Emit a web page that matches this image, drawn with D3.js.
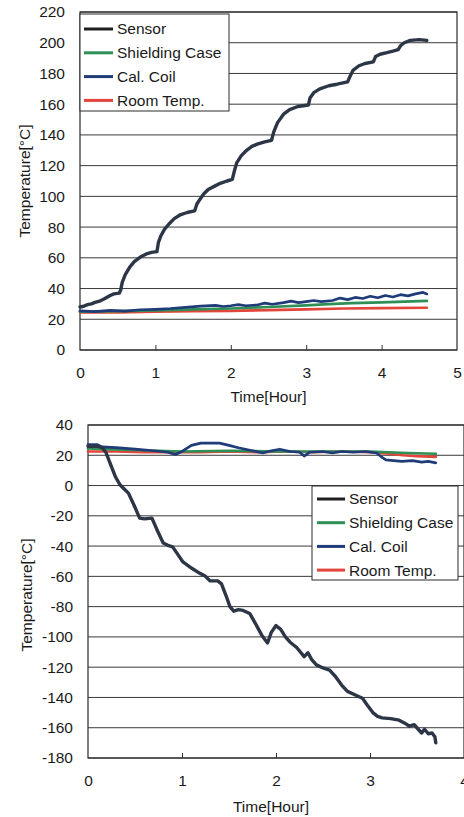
<!DOCTYPE html>
<html>
<head>
<meta charset="utf-8">
<script src="https://cdn.jsdelivr.net/npm/d3@7"></script>
<style>
  html, body { margin: 0; padding: 0; background: #fff; }
  svg { display: block; font-family: "Liberation Sans", Arial, sans-serif; }
</style>
</head>
<body>
<svg id="chart" width="464" height="817"></svg>
<script>
// Series names and colours
const seriesNames = ["Sensor", "Shielding Case", "Cal. Coil", "Room Temp."];
const seriesColors = ["#2c3646", "#2e8f57", "#1f3c78", "#e2463a"];

// Heating run: [hour, °C]
const heatSensor = [[0,28],[0.05,28.5],[0.1,29.5],[0.15,30],[0.2,31],[0.27,32],[0.33,33.5],[0.4,35.5],[0.45,36.5],[0.52,37],[0.54,39],[0.56,44],[0.6,49],[0.66,54],[0.72,57.5],[0.8,60.5],[0.88,62.5],[0.95,63.5],[1.02,64],[1.04,70],[1.07,74],[1.12,78.5],[1.18,82],[1.25,85.5],[1.33,88],[1.42,89.5],[1.52,90.5],[1.55,95],[1.59,98],[1.64,101.5],[1.7,104.5],[1.78,106.5],[1.86,108.5],[1.95,110],[2.02,111],[2.05,117],[2.08,122],[2.14,126.5],[2.21,130],[2.28,132.5],[2.35,134],[2.45,135.5],[2.54,136.5],[2.57,142],[2.62,148],[2.7,153.5],[2.78,156.5],[2.89,158.5],[3.03,159.5],[3.05,164],[3.1,167.5],[3.18,170],[3.3,172],[3.41,173],[3.55,174.5],[3.58,178],[3.62,182],[3.7,185],[3.78,186.5],[3.89,187.5],[3.92,191],[3.98,192.5],[4.07,193.5],[4.15,194.5],[4.22,195.5],[4.25,198],[4.3,200],[4.38,201.5],[4.5,202],[4.6,201.5]];
const heatShield = [[0,25],[0.5,25.3],[1,25.8],[1.5,26.5],[2,27],[2.5,28],[3,29],[3.3,29.8],[3.6,30.5],[4,31],[4.3,31.5],[4.6,32]];
const heatCoil = [[0,25.5],[0.2,25],[0.4,25.8],[0.6,25.3],[0.8,26.2],[1,26.5],[1.2,27],[1.4,27.8],[1.6,28.5],[1.8,29],[1.9,28.3],[2.0,28.8],[2.1,29.5],[2.2,28.8],[2.35,29.3],[2.45,30.5],[2.55,29.8],[2.7,30.8],[2.8,31.8],[2.9,30.8],[3.0,31.5],[3.1,32.2],[3.2,31.5],[3.35,32.2],[3.45,33.8],[3.55,32.8],[3.65,34.2],[3.75,33.5],[3.85,35],[3.95,34],[4.05,35.5],[4.15,34.5],[4.25,36],[4.35,35.2],[4.45,36.5],[4.55,37.5],[4.6,36.5]];
const heatRoom = [[0,24.5],[0.5,24.5],[1,25],[1.5,25.3],[2,25.5],[2.5,26],[3,26.5],[3.5,27],[4,27.3],[4.6,27.5]];

// Cooling run: [hour, °C]
const coolSensor = [[0,26],[0.1,26],[0.15,25],[0.19,22],[0.24,14],[0.29,6],[0.34,0.5],[0.38,-2],[0.43,-5],[0.49,-13],[0.55,-21.5],[0.6,-22],[0.68,-21.5],[0.74,-30],[0.8,-38],[0.85,-39.5],[0.9,-40.5],[0.95,-45],[1.01,-50.5],[1.1,-54.5],[1.19,-58],[1.25,-60],[1.3,-63],[1.38,-63],[1.42,-65],[1.47,-73],[1.51,-80],[1.55,-83],[1.6,-82],[1.65,-82.5],[1.72,-84.5],[1.78,-91],[1.85,-99],[1.91,-104],[1.95,-97],[2.0,-92.5],[2.05,-95],[2.1,-100],[2.15,-103.5],[2.22,-107],[2.3,-113],[2.34,-110.5],[2.38,-115],[2.43,-118.5],[2.5,-120.5],[2.57,-122],[2.63,-126],[2.7,-132],[2.76,-136],[2.85,-138.5],[2.92,-140.5],[2.97,-145],[3.03,-150],[3.08,-152.5],[3.13,-153.5],[3.22,-154],[3.31,-155],[3.37,-157],[3.42,-159],[3.47,-158],[3.52,-161.5],[3.55,-163.5],[3.58,-161],[3.62,-164],[3.66,-163.5],[3.69,-166],[3.7,-170]];
const coolShield = [[0,24.5],[0.2,24],[0.5,23.5],[1,22.5],[1.5,23],[2,22.5],[2.5,22.5],[3,22.5],[3.2,22],[3.4,21.5],[3.7,21]];
const coolCoil = [[0,27],[0.1,27],[0.15,25.5],[0.3,25],[0.5,24],[0.7,23],[0.85,22],[0.93,20.5],[1.0,22.5],[1.1,26.5],[1.2,28],[1.4,28],[1.5,26.5],[1.6,25],[1.75,23],[1.86,21.5],[1.95,23],[2.04,24],[2.15,22.5],[2.25,22],[2.3,19.5],[2.36,22],[2.5,22.5],[2.6,21.5],[2.7,22.5],[2.82,22],[2.95,22.5],[3.07,21.5],[3.12,19],[3.17,17],[3.25,16.5],[3.34,16],[3.45,16.5],[3.55,15.5],[3.62,16],[3.7,15]];
const coolRoom = [[0,22.5],[0.3,22.5],[0.6,22],[0.9,22],[1.2,22],[1.5,22.5],[1.8,22],[2.1,22.5],[2.4,22],[2.7,22.5],[3.0,22],[3.2,21],[3.35,20],[3.5,19.5],[3.7,19]];

// Axis ticks
const heatXTicks = [0, 1, 2, 3, 4, 5];
const heatYTicks = [0, 20, 40, 60, 80, 100, 120, 140, 160, 180, 200, 220];
const coolXTicks = [0, 1, 2, 3, 4];
const coolYTicks = [40, 20, 0, -20, -40, -60, -80, -100, -120, -140, -160, -180];

const xTitle = "Time[Hour]";
const yTitle = "Temperature[°C]";

const FONT = 15.5;
const plain = d => String(d);   // hyphen-minus for negative labels
const svg = d3.select("#chart");

function drawPanel(cfg) {
  const x = d3.scaleLinear().domain(cfg.xDomain).range([cfg.left, cfg.right]);
  const y = d3.scaleLinear().domain(cfg.yDomain).range([cfg.bottom, cfg.top]);
  const g = svg.append("g");

  // horizontal gridlines
  g.append("g").selectAll("line").data(cfg.yTicks).join("line")
    .attr("x1", cfg.left).attr("x2", cfg.right)
    .attr("y1", d => y(d)).attr("y2", d => y(d))
    .attr("stroke", "#3a3a3a").attr("stroke-width", 1);

  // frame
  g.append("rect")
    .attr("x", cfg.left).attr("y", cfg.top)
    .attr("width", cfg.right - cfg.left).attr("height", cfg.bottom - cfg.top)
    .attr("fill", "none").attr("stroke", "#2a2a2a").attr("stroke-width", 1.2);

  // x axis with inward ticks
  const xAxis = d3.axisBottom(x).tickValues(cfg.xTicks).tickSize(-5).tickPadding(17)
    .tickFormat(plain);
  const xg = g.append("g").attr("transform", `translate(0,${cfg.bottom})`).call(xAxis);
  xg.select(".domain").remove();
  xg.selectAll(".tick line").attr("stroke", "#333");
  xg.selectAll(".tick text").attr("font-size", FONT).attr("fill", "#1a1a1a")
    .attr("font-family", "Liberation Sans, Arial, sans-serif");
  xg.selectAll(".tick").filter(d => d === cfg.xDomain[0] || d === cfg.xDomain[1]).select("line").remove();

  // y axis labels
  const yAxis = d3.axisLeft(y).tickValues(cfg.yTicks).tickSize(0).tickPadding(15).tickFormat(plain);
  const yg = g.append("g").attr("transform", `translate(${cfg.left},0)`).call(yAxis);
  yg.select(".domain").remove();
  yg.selectAll(".tick text").attr("font-size", FONT).attr("fill", "#1a1a1a")
    .attr("font-family", "Liberation Sans, Arial, sans-serif");

  // axis titles
  g.append("text").attr("x", (cfg.left + cfg.right) / 2 + cfg.xTitleShift).attr("y", cfg.xTitleY)
    .attr("text-anchor", "middle").attr("font-size", FONT).attr("fill", "#1a1a1a").text(xTitle);
  g.append("text")
    .attr("transform", `translate(${cfg.yTitleX},${cfg.yTitleCY}) rotate(-90)`)
    .attr("text-anchor", "middle").attr("dy", "0.35em")
    .attr("font-size", FONT).attr("fill", "#1a1a1a").text(yTitle);

  // series lines (drawn so the sensor trace sits on top)
  const line = d3.line().x(d => x(d[0])).y(d => y(d[1]));
  const order = [3, 1, 2, 0];
  order.forEach(i => {
    g.append("path").datum(cfg.series[i]).attr("d", line)
      .attr("fill", "none").attr("stroke", seriesColors[i])
      .attr("stroke-width", i === 0 ? 3.4 : 2.7)
      .attr("stroke-linejoin", "round").attr("stroke-linecap", "round");
  });

  // legend
  const L = cfg.legend;
  const lg = g.append("g");
  lg.append("rect").attr("x", L.x).attr("y", L.y).attr("width", L.w).attr("height", L.h)
    .attr("fill", "#fff").attr("stroke", "#2a2a2a").attr("stroke-width", 1);
  seriesNames.forEach((name, i) => {
    const cy = L.y + L.first + i * L.step;
    lg.append("line").attr("x1", L.x + L.s0).attr("x2", L.x + L.s1)
      .attr("y1", cy).attr("y2", cy)
      .attr("stroke", i === 0 ? "#1e1e1e" : seriesColors[i]).attr("stroke-width", 3);
    lg.append("text").attr("x", L.x + L.tx).attr("y", cy).attr("dy", "0.35em")
      .attr("font-size", FONT).attr("fill", "#1a1a1a").text(name);
  });
}

drawPanel({
  xDomain: [0, 5], yDomain: [0, 220],
  left: 80, right: 457, top: 12, bottom: 350,
  xTicks: heatXTicks, yTicks: heatYTicks,
  xTitleY: 402, xTitleShift: 0, yTitleX: 25, yTitleCY: 181,
  series: [heatSensor, heatShield, heatCoil, heatRoom],
  legend: { x: 80, y: 14, w: 149, h: 97, first: 15, step: 23.8, s0: 4, s1: 33, tx: 37 }
});

drawPanel({
  xDomain: [0, 4], yDomain: [-180, 40],
  left: 88, right: 464, top: 425, bottom: 758,
  xTicks: coolXTicks, yTicks: coolYTicks,
  xTitleY: 812, xTitleShift: -5, yTitleX: 27, yTitleCY: 595,
  series: [coolSensor, coolShield, coolCoil, coolRoom],
  legend: { x: 312, y: 486, w: 146, h: 94, first: 13, step: 23.7, s0: 5, s1: 33, tx: 37 }
});
</script>
</body>
</html>
